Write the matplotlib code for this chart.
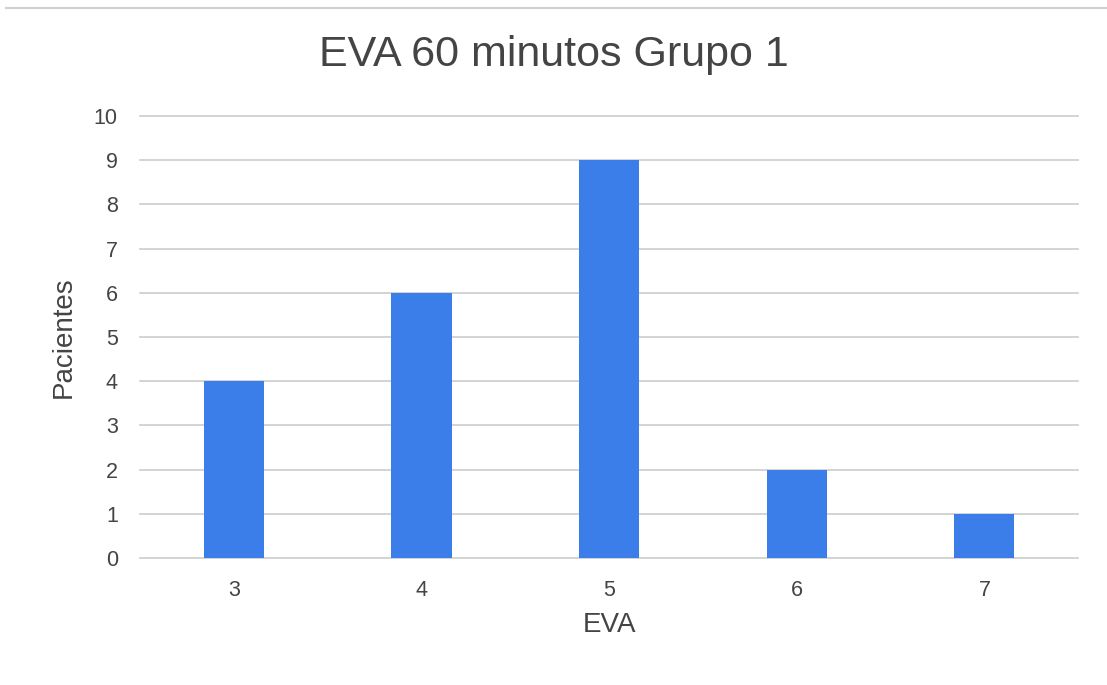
import matplotlib.pyplot as plt
from matplotlib.lines import Line2D

plt.rcParams["font.family"] = ["Liberation Sans", "DejaVu Sans"]

# EVA scores and number of patients per score
eva_scores = ["3", "4", "5", "6", "7"]
patients = [4, 6, 9, 2, 1]
y_ticks = list(range(0, 11))

fig = plt.figure(figsize=(11.07, 6.85), dpi=100)
ax = fig.add_axes([0.1265, 0.1854, 0.8475, 0.6453])

ax.bar(eva_scores, patients, width=0.32, color="#3b7de9", zorder=3)

ax.set_ylim(0, 10)
ax.set_xlim(-0.5, len(eva_scores) - 0.5)
ax.set_yticks(y_ticks)
ax.grid(axis="y", color="#cccccc", linewidth=1.2, zorder=0)
for gl in ax.yaxis.get_gridlines():
    gl.set_clip_on(False)
for side in ["top", "right", "left", "bottom"]:
    ax.spines[side].set_visible(False)
ax.tick_params(axis="both", length=0, labelsize=15.5, colors="#444444")
ax.tick_params(axis="x", pad=16)
ax.tick_params(axis="y", pad=16)

ax.set_xlabel("EVA", fontsize=20, color="#444444", labelpad=8)
ax.set_ylabel("Pacientes", fontsize=20, color="#444444", labelpad=12)
fig.suptitle("EVA 60 minutos Grupo 1", fontsize=31, color="#444444",
             y=1 - 55 / 685, va="center")

# thin gray border along the top edge
fig.add_artist(Line2D([0.005, 1.0], [0.988, 0.988], color="#cfcfcf",
                      linewidth=1.5, transform=fig.transFigure))

fig.savefig("out.png", dpi=100)
